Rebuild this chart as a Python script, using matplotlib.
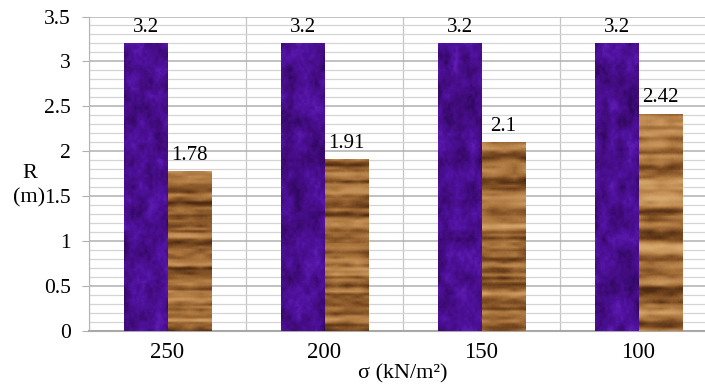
import numpy as np
import matplotlib
matplotlib.use("Agg")
import matplotlib.pyplot as plt
from matplotlib.ticker import MultipleLocator
from matplotlib.colors import LinearSegmentedColormap

categories = ["250", "200", "150", "100"]
series_a = [3.2, 3.2, 3.2, 3.2]
series_b = [1.78, 1.91, 2.1, 2.42]
y_ticks = [0, 0.5, 1, 1.5, 2, 2.5, 3, 3.5]
y_tick_labels = ["0", "0.5", "1", "1.5", "2", "2.5", "3", "3.5"]

plt.rcParams['font.family'] = ['Liberation Serif', 'DejaVu Serif']

W, H = 705, 391
fig = plt.figure(figsize=(W / 100, H / 100), dpi=100)
left_px, right_px, top_px, bottom_px = 89, 717, 16.5, 331
ax = fig.add_axes([left_px / W, (H - bottom_px) / H,
                   (right_px - left_px) / W, (bottom_px - top_px) / H])

x = np.arange(len(categories))
bw = 0.28
bars_a = ax.bar(x - bw / 2, series_a, bw, color="#4c1190", zorder=3)
bars_b = ax.bar(x + bw / 2, series_b, bw, color="#a8733f", zorder=3)

rng = np.random.default_rng(7)

purple_cmap = LinearSegmentedColormap.from_list(
    "purp", ["#30085f", "#440c82", "#5012a0", "#6420b4"])
wood_cmap = LinearSegmentedColormap.from_list(
    "wood", ["#4e2c12", "#7c4c22", "#a8733c", "#c49158", "#d6a86e"])


def smooth_noise(h, w, scale_y, scale_x):
    base = rng.random((h // scale_y + 2, w // scale_x + 2))
    yy = np.linspace(0, base.shape[0] - 1.001, h)
    xx = np.linspace(0, base.shape[1] - 1.001, w)
    y0 = yy.astype(int); x0 = xx.astype(int)
    fy = (yy - y0)[:, None]; fx = (xx - x0)[None, :]
    a = base[y0][:, x0]; b = base[y0][:, x0 + 1]
    c = base[y0 + 1][:, x0]; d = base[y0 + 1][:, x0 + 1]
    return (a * (1 - fx) + b * fx) * (1 - fy) + (c * (1 - fx) + d * fx) * fy


for bar in bars_a:
    h, w = 300, 45
    tex = 0.55 * smooth_noise(h, w, 14, 10) + 0.3 * smooth_noise(h, w, 4, 3) + 0.15 * rng.random((h, w))
    bx, by = bar.get_x(), bar.get_y()
    im = ax.imshow(tex, cmap=purple_cmap, vmin=0.15, vmax=0.9, aspect="auto",
                   extent=[bx, bx + bar.get_width(), by, by + bar.get_height()],
                   zorder=4, interpolation="bilinear")
    im.set_clip_path(bar)

for bar in bars_b:
    h, w = 180, 45
    rows = 0.6 * smooth_noise(h, 1, 6, 1) + 0.4 * smooth_noise(h, 1, 3, 1)
    tex = rows.repeat(w, axis=1)
    tex = tex + 0.3 * smooth_noise(h, w, 3, 12) + 0.06 * rng.random((h, w))
    bx, by = bar.get_x(), bar.get_y()
    im = ax.imshow(tex, cmap=wood_cmap, vmin=0.25, vmax=1.15, aspect="auto",
                   extent=[bx, bx + bar.get_width(), by, by + bar.get_height()],
                   zorder=4, interpolation="bilinear")
    im.set_clip_path(bar)

for xi, v in zip(x, series_a):
    ax.text(xi - bw / 2, v + 0.07, f"{v:g}", ha="center", va="bottom", fontsize=15, zorder=5)
for xi, v in zip(x, series_b):
    ax.text(xi + bw / 2, v + 0.07, f"{v:g}", ha="center", va="bottom", fontsize=15, zorder=5)

ax.set_xlim(-0.5, 3.5)
ax.set_ylim(0, 3.5)
ax.set_yticks(y_ticks)
ax.set_yticklabels(y_tick_labels, fontsize=15.5)
ax.set_xticks(x)
ax.set_xticklabels(categories, fontsize=16.5)
ax.yaxis.set_minor_locator(MultipleLocator(0.1))
ax.xaxis.set_minor_locator(MultipleLocator(0.5))
ax.grid(which="minor", axis="y", color="#d4d4d4", lw=0.9, zorder=0)
ax.grid(which="major", axis="y", color="#b0b0b0", lw=1.1, zorder=0)
ax.grid(which="minor", axis="x", color="#c4c4c4", lw=0.9, zorder=0)
ax.tick_params(axis="y", which="major", length=5, color="#b0b0b0", pad=8)
ax.tick_params(axis="y", which="minor", length=0)
ax.tick_params(axis="x", which="both", length=0, pad=8)
for s in ["top", "right"]:
    ax.spines[s].set_visible(False)
ax.spines["left"].set_color("#b4b4b4")
ax.spines["bottom"].set_color("#a8a8a8")
ax.spines["bottom"].set_linewidth(1.5)
ax.set_axisbelow(True)

ax.set_xlabel("σ (kN/m²)", fontsize=16, labelpad=1)
fig.text(30 / W, 1 - 174 / H, "R", ha="center", va="center", fontsize=16)
fig.text(29 / W, 1 - 198 / H, "(m)", ha="center", va="center", fontsize=16)

fig.savefig("out.png", dpi=100)
